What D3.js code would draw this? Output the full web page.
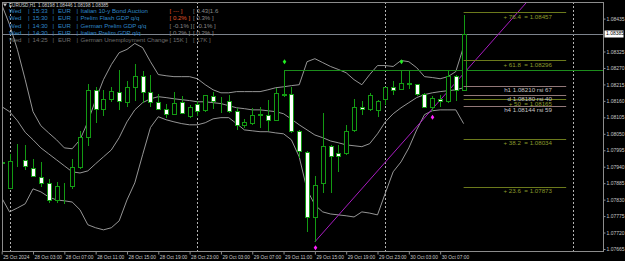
<!DOCTYPE html>
<html>
<head>
<meta charset="utf-8">
<script src="https://cdn.jsdelivr.net/npm/d3@7"></script>
<style>
body { margin: 0; background: #000; }
svg { display: block; font-family: "Liberation Sans", Arial, sans-serif; }
text { white-space: pre; }
</style>
</head>
<body>
<script>
// EURUSD H1 candles, bar 0 = 25 Oct 23:00, bar 1 = 28 Oct 00:00 ...
var opens = [1.07956, 1.07869, 1.07961, 1.07961, 1.07936, 1.07906, 1.07886, 1.07829, 1.07874, 1.07876,
    1.07940, 1.08040, 1.08197, 1.08134, 1.08167, 1.08191, 1.08156, 1.08205, 1.08242, 1.08189,
    1.08156, 1.08132, 1.08117, 1.08155, 1.08108, 1.08150, 1.08128, 1.08175, 1.08158, 1.08160,
    1.08125, 1.08078, 1.08087, 1.08114, 1.08114, 1.08096, 1.08184, 1.08182, 1.08060, 1.07989,
    1.07771, 1.07885, 1.08008, 1.07986, 1.07985, 1.08063, 1.08141, 1.08132, 1.08128, 1.08166,
    1.08206, 1.08200, 1.08217, 1.08218, 1.08184, 1.08141, 1.08167, 1.08158, 1.08242, 1.08198];
var highs = [1.07963, 1.07983, 1.08016, 1.08013, 1.07966, 1.07956, 1.07899, 1.07889, 1.07886, 1.07966,
    1.08060, 1.08217, 1.08207, 1.08197, 1.08207, 1.08262, 1.08228, 1.08284, 1.08261, 1.08245,
    1.08184, 1.08150, 1.08191, 1.08177, 1.08147, 1.08159, 1.08181, 1.08191, 1.08172, 1.08181,
    1.08137, 1.08100, 1.08137, 1.08140, 1.08164, 1.08204, 1.08264, 1.08207, 1.08063, 1.07991,
    1.07910, 1.08121, 1.08013, 1.08013, 1.08080, 1.08166, 1.08158, 1.08186, 1.08164, 1.08207,
    1.08225, 1.08264, 1.08261, 1.08218, 1.08187, 1.08175, 1.08181, 1.08264, 1.08248, 1.08446];
var lows = [1.07950, 1.07866, 1.07939, 1.07930, 1.07906, 1.07873, 1.07819, 1.07819, 1.07816, 1.07866,
    1.07933, 1.08010, 1.08087, 1.08110, 1.08157, 1.08130, 1.08141, 1.08158, 1.08154, 1.08141,
    1.08130, 1.08104, 1.08114, 1.08117, 1.08104, 1.08108, 1.08124, 1.08132, 1.08121, 1.08119,
    1.08063, 1.08070, 1.08080, 1.08070, 1.08058, 1.08095, 1.08173, 1.08052, 1.07969, 1.07723,
    1.07689, 1.07851, 1.07851, 1.07924, 1.07980, 1.08057, 1.08114, 1.08125, 1.08105, 1.08147,
    1.08181, 1.08197, 1.08201, 1.08177, 1.08137, 1.08125, 1.08141, 1.08153, 1.08158, 1.08198];
var closes = [1.07953, 1.07960, 1.07963, 1.07941, 1.07909, 1.07886, 1.07829, 1.07876, 1.07876, 1.07940,
    1.08040, 1.08197, 1.08134, 1.08167, 1.08194, 1.08158, 1.08205, 1.08242, 1.08189, 1.08156,
    1.08132, 1.08117, 1.08154, 1.08119, 1.08139, 1.08127, 1.08178, 1.08161, 1.08160, 1.08127,
    1.08080, 1.08089, 1.08114, 1.08115, 1.08096, 1.08185, 1.08179, 1.08060, 1.07991, 1.07773,
    1.07879, 1.08008, 1.07977, 1.07977, 1.08060, 1.08138, 1.08132, 1.08181, 1.08158, 1.08207,
    1.08197, 1.08220, 1.08220, 1.08184, 1.08141, 1.08169, 1.08158, 1.08242, 1.08197, 1.08385];

// bollinger bands
var bbUpper = [1.08482, 1.08415, 1.08332, 1.08231, 1.08124, 1.08077, 1.08053, 1.08030, 1.08003, 1.08000,
    1.08030, 1.08090, 1.08164, 1.08231, 1.08281, 1.08321, 1.08332, 1.08352, 1.08338, 1.08291,
    1.08248, 1.08244, 1.08241, 1.08241, 1.08241, 1.08234, 1.08214, 1.08197, 1.08187, 1.08187,
    1.08191, 1.08191, 1.08191, 1.08191, 1.08197, 1.08204, 1.08207, 1.08211, 1.08214, 1.08291,
    1.08301, 1.08288, 1.08275, 1.08265, 1.08254, 1.08231, 1.08214, 1.08248, 1.08278, 1.08278,
    1.08275, 1.08295, 1.08291, 1.08271, 1.08241, 1.08238, 1.08234, 1.08241, 1.08258, 1.08342];
var bbMiddle = [1.08141, 1.08124, 1.08094, 1.08055, 1.08030, 1.08003, 1.07983, 1.07963, 1.07943, 1.07923,
    1.07919, 1.07926, 1.07950, 1.07973, 1.07996, 1.08037, 1.08090, 1.08130, 1.08154, 1.08167,
    1.08174, 1.08171, 1.08167, 1.08164, 1.08161, 1.08157, 1.08157, 1.08154, 1.08151, 1.08144,
    1.08137, 1.08134, 1.08130, 1.08130, 1.08127, 1.08124, 1.08117, 1.08099, 1.08080, 1.08063,
    1.08046, 1.08037, 1.08026, 1.08020, 1.08013, 1.08010, 1.08007, 1.08017, 1.08050, 1.08090,
    1.08117, 1.08137, 1.08154, 1.08171, 1.08181, 1.08187, 1.08191, 1.08194, 1.08197, 1.08204];
var bbLower = [1.07836, 1.07789, 1.07802, 1.07816, 1.07866, 1.07856, 1.07839, 1.07829, 1.07826, 1.07822,
    1.07796, 1.07746, 1.07736, 1.07729, 1.07736, 1.07759, 1.07829, 1.07886, 1.07980, 1.08071,
    1.08107, 1.08097, 1.08090, 1.08084, 1.08080, 1.08080, 1.08087, 1.08100, 1.08104, 1.08104,
    1.08084, 1.08063, 1.08060, 1.08057, 1.08057, 1.08053, 1.08050, 1.08030, 1.07973, 1.07863,
    1.07812, 1.07789, 1.07782, 1.07779, 1.07776, 1.07772, 1.07789, 1.07785, 1.07779, 1.07852,
    1.07923, 1.07956, 1.08003, 1.08063, 1.08114, 1.08127, 1.08130, 1.08130, 1.08130, 1.08084];

var priceTicks = [1.07665, 1.07720, 1.07775, 1.07830, 1.07885, 1.07940, 1.07995, 1.08050,
    1.08105, 1.08160, 1.08215, 1.08270, 1.08325, 1.08435];
var bidPrice = 1.08385;

var timeBars = [0, 4, 8, 12, 16, 20, 24, 28, 32, 36, 40, 44, 48, 52, 56];
var timeLabels = ["25 Oct 2024", "28 Oct 03:00", "28 Oct 07:00", "28 Oct 11:00", "28 Oct 15:00",
    "28 Oct 19:00", "28 Oct 23:00", "29 Oct 03:00", "29 Oct 07:00", "29 Oct 11:00", "29 Oct 15:00",
    "29 Oct 19:00", "29 Oct 23:00", "30 Oct 03:00", "30 Oct 07:00"];
var daySeparators = [1, 25, 49, 73];

var fractalUp = [36, 51];
var fractalDown = [40, 55];
var trendBars = [40, 55];
var trendPrices = [1.07689, 1.08133];

var fibLevels = ["76.4", "61.8", "50", "38.2", "23.6"];
var fibPrices = [1.08457, 1.08296, 1.08165, 1.08034, 1.07873];
var rsiFrames = ["h1", "d", "h4"];
var rsiPrices = [1.08210, 1.08180, 1.08144];
var rsiValues = [67, 40, 59];

var newsDays = ["Wed", "Wed", "Wed", "Wed", "Wed"];
var newsTimes = ["15:33", "15:30", "14:30", "14:30", "14:25"];
var newsCurrency = ["EUR", "EUR", "EUR", "EUR", "EUR"];
var newsEvents = ["Italian 10-y Bond Auction", "Prelim Flash GDP q/q", "German Prelim GDP q/q",
    "Italian Prelim GDP q/q", "German Unemployment Change"];
var newsForecast = ["[ --- ]", "[ 0.2% ]", "[ -0.1% ]", "[ 0.2% ]", "[ 15K ]"];
var newsPrevious = ["[ 3.43|1.6", "[ 0.3% ]", "[ -0.1% ]", "[ 0.2% ]", "[ 17K ]"];

var width = 625, height = 261;
var pLeft = 2, pRight = 603, pTop = 2, pBottom = 251;

var svg = d3.select("body").append("svg")
    .attr("width", width)
    .attr("height", height);

svg.append("rect").attr("width", width).attr("height", height).attr("fill", "#000");

var x = d3.scaleLinear().domain([0, 76.8]).range([1.7, 603]);
var y = d3.scaleLinear().domain([1.07665, 1.08435]).range([249, 18.6]);

svg.append("clipPath").attr("id", "plotclip")
    .append("rect").attr("x", pLeft).attr("y", pTop)
    .attr("width", pRight - pLeft).attr("height", pBottom - pTop);

var plot = svg.append("g").attr("clip-path", "url(#plotclip)");

// day separators
plot.selectAll(".sep").data(daySeparators).enter().append("line")
    .attr("x1", function (d) { return Math.round(x(d)) + 0.5; })
    .attr("x2", function (d) { return Math.round(x(d)) + 0.5; })
    .attr("y1", pTop).attr("y2", pBottom)
    .attr("stroke", "#b4b4b4")
    .attr("stroke-dasharray", "2,2");

// bid line
plot.append("line")
    .attr("x1", pLeft).attr("x2", pRight)
    .attr("y1", Math.round(y(bidPrice)) + 0.5).attr("y2", Math.round(y(bidPrice)) + 0.5)
    .attr("stroke", "#7d838c");

// bollinger bands
var band = d3.line()
    .x(function (d, i) { return x(i); })
    .y(function (d) { return y(d); });

[bbUpper, bbMiddle, bbLower].forEach(function (b) {
    plot.append("path")
        .attr("d", band(b))
        .attr("fill", "none")
        .attr("stroke", "#a6a6a6")
        .attr("stroke-width", 0.9);
});

// fractal level line
plot.append("line")
    .attr("x1", Math.round(x(fractalUp[0])) + 0.5).attr("x2", pRight)
    .attr("y1", Math.round(y(highs[fractalUp[0]])) + 0.5)
    .attr("y2", Math.round(y(highs[fractalUp[0]])) + 0.5)
    .attr("stroke", "#1c8c1c");

// trend line through the two lows, extended
var slope = (trendPrices[1] - trendPrices[0]) / (trendBars[1] - trendBars[0]);
plot.append("line")
    .attr("x1", x(trendBars[0])).attr("y1", y(trendPrices[0]))
    .attr("x2", x(76.8)).attr("y2", y(trendPrices[0] + slope * (76.8 - trendBars[0])))
    .attr("stroke", "#a81cc0");

// candles
var green = "#139a13";
var candles = plot.selectAll(".candle").data(opens).enter().append("g");

candles.append("line")
    .attr("x1", function (d, i) { return Math.round(x(i)) + 0.5; })
    .attr("x2", function (d, i) { return Math.round(x(i)) + 0.5; })
    .attr("y1", function (d, i) { return Math.round(y(highs[i])); })
    .attr("y2", function (d, i) { return Math.round(y(lows[i])); })
    .attr("stroke", green);

candles.append("rect")
    .attr("x", function (d, i) { return Math.round(x(i)) - 2 + 0.5; })
    .attr("y", function (d, i) { return Math.round(y(Math.max(opens[i], closes[i]))) + 0.5; })
    .attr("width", 4)
    .attr("height", function (d, i) {
        return Math.max(0, Math.round(y(Math.min(opens[i], closes[i]))) - Math.round(y(Math.max(opens[i], closes[i]))));
    })
    .attr("fill", function (d, i) { return closes[i] >= opens[i] ? "#000" : "#fff"; })
    .attr("stroke", green);

// fractal markers
function diamond(cx, cy, color) {
    plot.append("path")
        .attr("d", "M" + cx + "," + (cy - 2.5) + "L" + (cx + 1.8) + "," + cy +
            "L" + cx + "," + (cy + 2.5) + "L" + (cx - 1.8) + "," + cy + "Z")
        .attr("fill", color);
}
fractalUp.forEach(function (b) { diamond(Math.round(x(b)) + 0.5, y(highs[b]) - 8, "#22ee22"); });
fractalDown.forEach(function (b) { diamond(Math.round(x(b)) + 0.5, y(lows[b]) + 6, "#ff22ff"); });

// fibonacci levels
var fibX1 = x(59), fibX2 = x(72.1), labelX = 552;
fibPrices.forEach(function (p, i) {
    plot.append("line")
        .attr("x1", fibX1).attr("x2", fibX2)
        .attr("y1", Math.round(y(p)) + 0.5).attr("y2", Math.round(y(p)) + 0.5)
        .attr("stroke", "#6c7a1c");
});
rsiPrices.forEach(function (p, i) {
    plot.append("line")
        .attr("x1", fibX1).attr("x2", fibX2)
        .attr("y1", Math.round(y(p)) + 0.5).attr("y2", Math.round(y(p)) + 0.5)
        .attr("stroke", "#927878");
});
rsiPrices.forEach(function (p, i) {
    plot.append("text")
        .attr("x", labelX).attr("y", y(p) + 6.1)
        .attr("text-anchor", "end")
        .attr("font-size", 6.2)
        .attr("fill", "#c4c4c4")
        .text(rsiFrames[i] + " " + p.toFixed(5) + " rsi " + rsiValues[i]);
});
fibPrices.forEach(function (p, i) {
    plot.append("text")
        .attr("x", labelX).attr("y", y(p) + 6.7)
        .attr("text-anchor", "end")
        .attr("font-size", 6.2)
        .attr("fill", "#8c9c2c")
        .text("+ " + fibLevels[i] + "  = " + p.toFixed(5));
});

// frame
svg.append("rect")
    .attr("x", pLeft + 0.5).attr("y", pTop + 0.5)
    .attr("width", pRight - pLeft).attr("height", pBottom - pTop)
    .attr("fill", "none")
    .attr("stroke", "#8c8c8c");

// price axis
var yAxis = svg.append("g")
    .attr("transform", "translate(" + (pRight + 0.5) + ",0)")
    .call(d3.axisRight(y).tickValues(priceTicks).tickSize(2).tickPadding(1)
        .tickFormat(d3.format(".5f")));
yAxis.select(".domain").remove();
yAxis.selectAll("line").attr("stroke", "#8c8c8c");
yAxis.selectAll("text").attr("fill", "#c8c8c8").attr("font-size", 5)
    .attr("font-family", "Liberation Sans, Arial, sans-serif");

// bid label
var by = y(bidPrice);
svg.append("rect")
    .attr("x", 604.5).attr("y", Math.round(by) - 3.5)
    .attr("width", 19).attr("height", 7)
    .attr("fill", "#fff");
svg.append("text")
    .attr("x", 606).attr("y", by + 1.8)
    .attr("font-size", 5)
    .attr("fill", "#000")
    .text(bidPrice.toFixed(5));

// time axis
var xAxis = svg.append("g")
    .attr("transform", "translate(0," + (pBottom + 0.5) + ")")
    .call(d3.axisBottom(x).tickValues(timeBars).tickSize(3)
        .tickFormat(function (d, i) { return timeLabels[i]; }));
xAxis.select(".domain").remove();
xAxis.selectAll("line").attr("stroke", "#8c8c8c");
xAxis.selectAll("text")
    .attr("text-anchor", "start")
    .attr("x", 1).attr("dy", 0).attr("y", 7)
    .attr("fill", "#c8c8c8").attr("font-size", 4.8)
    .attr("font-family", "Liberation Sans, Arial, sans-serif");

// header
svg.append("path").attr("d", "M3,3.5L7,3.5L5,6.5Z").attr("fill", "#c8c8c8");
svg.append("text")
    .attr("x", 9).attr("y", 6.5)
    .attr("font-size", 4.6)
    .attr("fill", "#d0d0d0")
    .text("EURUSD,H1  " + opens[59].toFixed(5) + " " + highs[59].toFixed(5) + " " +
        lows[59].toFixed(5) + " " + closes[59].toFixed(5));

// news table
newsEvents.forEach(function (ev, i) {
    var rowY = 12.8 + i * 7.35;
    var past = i === 4;
    var col = past ? "#6e6e6e" : "#2f86c6";
    var parts = [[9, newsDays[i]], [28, "|"], [32.5, newsTimes[i]], [52.5, "|"],
        [58, newsCurrency[i]], [76.5, "|"], [80.5, ev]];
    parts.forEach(function (p) {
        svg.append("text").attr("x", p[0]).attr("y", rowY)
            .attr("font-size", 6.1).attr("fill", col).text(p[1]);
    });
    svg.append("text").attr("x", 169.5).attr("y", rowY)
        .attr("font-size", 6.1)
        .attr("fill", i < 2 ? "#e0562a" : (past ? "#6e6e6e" : "#8a8a8a"))
        .text(newsForecast[i]);
    svg.append("text").attr("x", 193).attr("y", rowY)
        .attr("font-size", 6.1)
        .attr("fill", past ? "#6e6e6e" : "#8a8a8a")
        .text(newsPrevious[i]);
});
</script>
</body>
</html>
